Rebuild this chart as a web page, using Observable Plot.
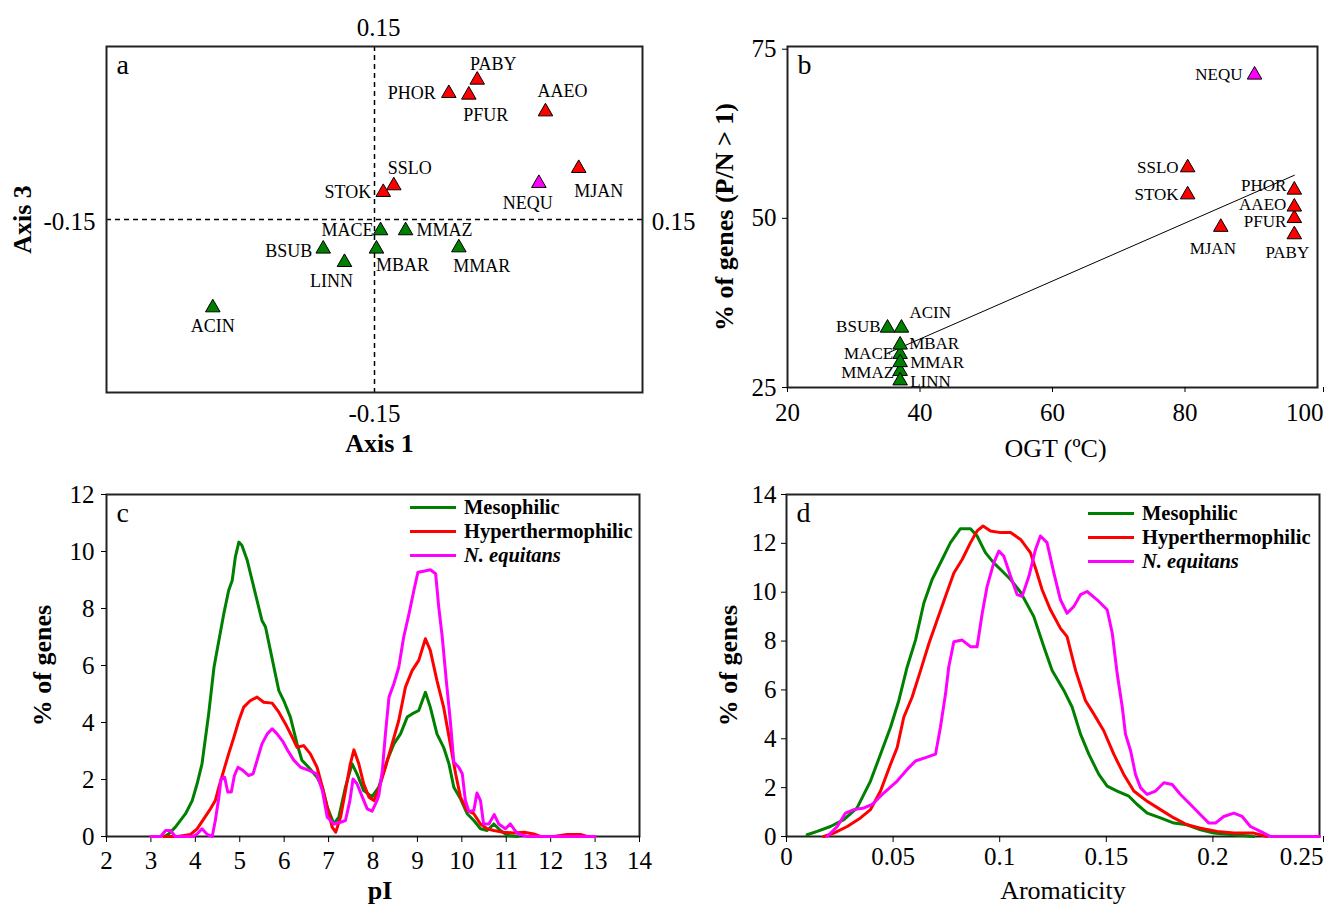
<!DOCTYPE html>
<html>
<head>
<meta charset="utf-8">
<script src="https://cdn.jsdelivr.net/npm/d3@7"></script>
<script src="https://cdn.jsdelivr.net/npm/@observablehq/plot@0.6"></script>
<style>
  body { margin: 0; background: #fff; }
  #fig { position: relative; width: 1324px; height: 907px; overflow: hidden; background: #fff; }
  .panel { position: absolute; }
  .legend { position: absolute; font-family: 'Liberation Serif', 'Times New Roman', serif; font-weight: bold; font-size: 20.5px; color: #000; }
  .legend .row { display: flex; align-items: center; height: 24px; white-space: nowrap; }
  .legend .sw { width: 46px; height: 3px; margin-right: 8px; }
</style>
</head>
<body>
<div id="fig"></div>
<script>
// ---------------- DATA ----------------
const species = ["PABY","PHOR","PFUR","AAEO","MJAN","NEQU","SSLO","STOK","MACE","MMAZ","BSUB","MBAR","MMAR","LINN","ACIN"];
const speciesGroup = ["hyper","hyper","hyper","hyper","hyper","nequ","hyper","hyper","meso","meso","meso","meso","meso","meso","meso"];

// Panel a: correspondence analysis coordinates
const axis1Values = [0.0575,0.0416,0.0528,0.0957,0.1143,0.0920,0.0108,0.0049,0.0034,0.0174,-0.0287,0.0011,0.0472,-0.0168,-0.0905];
const axis3Values = [0.1210,0.1094,0.1080,0.0935,0.0444,0.0314,0.0294,0.0236,-0.0096,-0.0096,-0.0255,-0.0255,-0.0244,-0.0371,-0.0764];
const axisRangeA = [-0.15, 0.15];

// Panel b: OGT vs % of genes with P/N > 1
const ogtValues = [96.5,96.5,96.5,96.5,85.4,90.5,80.4,80.4,37.0,37.0,35.1,37.0,37.0,37.0,37.2];
const pnValues = [47.6,54.2,50.0,51.7,48.7,71.2,57.5,53.5,29.9,27.4,33.8,31.3,28.7,26.0,33.8];
const ogtTicks = [20,40,60,80,100];
const pnTicks = [25,50,75];

// Panel c: pI distributions [pI, % of genes]
const pIMesophilic = [[3.3,0],[3.40,0.09],[3.55,0.33],[3.78,0.8],[3.93,1.26],[4.04,1.85],[4.15,2.55],[4.30,4.3],[4.42,5.94],[4.53,6.88],[4.64,7.81],[4.75,8.63],[4.83,8.98],[4.90,9.8],[4.98,10.33],[5.05,10.21],[5.17,9.68],[5.28,8.98],[5.39,8.28],[5.50,7.58],[5.58,7.35],[5.69,6.53],[5.80,5.71],[5.88,5.12],[5.99,4.77],[6.14,4.19],[6.29,3.25],[6.40,2.67],[6.55,2.43],[6.74,2.08],[6.86,1.73],[6.97,1.03],[7.12,0.44],[7.23,0.68],[7.38,1.73],[7.53,2.55],[7.64,2.2],[7.79,1.61],[7.98,1.4],[8.13,1.73],[8.32,2.67],[8.47,3.25],[8.62,3.6],[8.77,4.19],[8.88,4.3],[9.03,4.42],[9.18,5.06],[9.29,4.54],[9.44,3.6],[9.59,3.13],[9.71,2.55],[9.82,1.73],[9.97,1.32],[10.12,0.8],[10.27,0.56],[10.42,0.27],[10.57,0.21],[10.72,0.44],[10.87,0.21],[11.02,0.04],[11.25,0]];
const pIHyperthermophilic = [[3.3,0],[3.6,0],[3.89,0.07],[4.04,0.27],[4.19,0.62],[4.34,0.97],[4.45,1.26],[4.53,1.73],[4.64,2.32],[4.75,2.9],[4.87,3.49],[4.98,4.07],[5.09,4.54],[5.24,4.77],[5.39,4.89],[5.54,4.71],[5.73,4.68],[5.88,4.36],[6.03,3.95],[6.18,3.49],[6.29,3.13],[6.44,3.19],[6.59,2.9],[6.74,2.43],[6.86,1.73],[6.97,1.03],[7.08,0.33],[7.16,0.15],[7.27,0.68],[7.38,1.61],[7.49,2.55],[7.57,3.04],[7.68,2.55],[7.79,1.85],[7.91,1.38],[8.02,1.26],[8.13,1.67],[8.28,2.43],[8.43,3.25],[8.58,4.07],[8.73,5.24],[8.88,5.82],[9.03,6.18],[9.18,6.94],[9.29,6.53],[9.44,5.47],[9.59,4.54],[9.74,3.25],[9.86,2.2],[9.97,1.38],[10.12,0.91],[10.27,0.8],[10.42,0.44],[10.57,0.27],[10.72,0.21],[10.94,0.15],[11.17,0.12],[11.40,0.15],[11.62,0.09],[11.77,0],[12.07,0],[12.37,0.07],[12.67,0.07],[12.82,0]];
const pINequitans = [[3.0,0],[3.22,0],[3.33,0.21],[3.44,0.21],[3.55,0],[3.95,0],[4.04,0.09],[4.15,0.27],[4.27,0.07],[4.38,0],[4.45,0.56],[4.53,1.38],[4.58,2.02],[4.66,2.08],[4.73,1.56],[4.81,1.56],[4.88,2.14],[4.96,2.43],[5.07,2.32],[5.20,2.14],[5.30,2.2],[5.39,2.67],[5.50,3.25],[5.62,3.6],[5.73,3.78],[5.84,3.6],[5.98,3.31],[6.08,3.02],[6.22,2.67],[6.37,2.43],[6.56,2.32],[6.73,2.2],[6.86,1.61],[6.97,0.68],[7.12,0.44],[7.27,0.5],[7.38,0.56],[7.48,1.26],[7.55,2.02],[7.64,1.85],[7.76,1.38],[7.87,0.97],[7.98,0.89],[8.09,1.26],[8.13,1.44],[8.21,2.32],[8.28,3.6],[8.36,4.89],[8.47,5.36],[8.58,5.94],[8.69,6.99],[8.81,7.81],[8.92,8.63],[9.01,9.27],[9.14,9.31],[9.29,9.36],[9.41,9.22],[9.48,8.05],[9.56,6.99],[9.65,5.47],[9.74,4.07],[9.82,2.61],[9.93,2.43],[10.01,2.2],[10.08,1.26],[10.16,0.88],[10.27,0.91],[10.34,1.53],[10.42,1.26],[10.49,0.44],[10.61,0.44],[10.73,0.77],[10.83,0.44],[10.98,0.27],[11.09,0.44],[11.24,0.12],[11.47,0],[13.0,0]];
const pITicks = [2,3,4,5,6,7,8,9,10,11,12,13,14];
const pctTicksC = [0,2,4,6,8,10,12];

// Panel d: aromaticity distributions [aromaticity, % of genes]
const aroMesophilic = [[0.0097,0.07],[0.0144,0.21],[0.0206,0.41],[0.0269,0.69],[0.0331,1.17],[0.0394,2.27],[0.0441,3.37],[0.0488,4.47],[0.0527,5.57],[0.0566,6.94],[0.0605,8.04],[0.0644,9.55],[0.0683,10.52],[0.073,11.34],[0.0769,12.03],[0.0816,12.6],[0.0863,12.6],[0.0894,12.3],[0.0933,11.62],[0.0972,11.2],[0.1004,10.93],[0.1051,10.52],[0.1098,10.0],[0.116,9.0],[0.1207,7.77],[0.1246,6.8],[0.1301,5.98],[0.134,5.29],[0.1379,4.19],[0.1418,3.37],[0.1465,2.54],[0.1504,2.06],[0.1551,1.86],[0.1606,1.65],[0.1645,1.31],[0.1692,0.96],[0.1754,0.76],[0.1817,0.55],[0.1879,0.48],[0.1942,0.27],[0.2004,0.14],[0.2098,0.07],[0.2192,0]];
const aroHyperthermophilic = [[0.0175,0],[0.0222,0.14],[0.0285,0.41],[0.0347,0.76],[0.0394,1.1],[0.0441,1.86],[0.0488,2.96],[0.0519,3.64],[0.055,4.88],[0.0589,5.7],[0.0629,6.8],[0.0668,7.9],[0.0707,8.87],[0.0746,9.83],[0.0785,10.79],[0.0824,11.34],[0.0863,12.03],[0.0894,12.51],[0.0922,12.71],[0.0957,12.51],[0.1004,12.44],[0.1051,12.44],[0.1098,12.16],[0.1144,11.62],[0.1170,10.93],[0.1199,10.1],[0.1238,9.28],[0.1285,8.52],[0.1316,8.18],[0.1356,6.8],[0.1402,5.57],[0.1441,5.02],[0.1488,4.33],[0.1535,3.37],[0.1582,2.54],[0.1629,1.86],[0.1692,1.44],[0.1754,1.1],[0.1817,0.76],[0.1879,0.48],[0.1942,0.34],[0.202,0.21],[0.2098,0.14],[0.2192,0.14],[0.2255,0]];
const aroNequitans = [[0.0191,0],[0.0238,0.41],[0.0277,0.96],[0.0316,1.1],[0.0363,1.17],[0.0402,1.31],[0.0457,1.79],[0.0519,2.27],[0.0574,2.82],[0.0605,3.09],[0.0652,3.23],[0.0699,3.37],[0.0722,4.47],[0.0746,5.84],[0.0761,6.94],[0.0785,7.97],[0.0824,8.04],[0.0863,7.77],[0.0894,7.77],[0.0918,9.14],[0.0941,10.24],[0.0972,11.2],[0.0996,11.68],[0.1019,11.48],[0.1051,10.65],[0.1082,9.9],[0.1105,9.83],[0.1137,10.65],[0.1168,11.75],[0.1191,12.3],[0.1222,12.03],[0.1254,10.79],[0.1285,9.69],[0.1316,9.14],[0.1348,9.42],[0.1379,9.9],[0.141,10.03],[0.1457,9.69],[0.1504,9.28],[0.1528,8.32],[0.1551,6.67],[0.1575,5.29],[0.159,4.19],[0.1614,3.51],[0.1637,2.54],[0.1661,1.99],[0.1692,1.72],[0.1731,1.86],[0.177,2.2],[0.1809,2.13],[0.1848,1.72],[0.1895,1.31],[0.1942,0.89],[0.1981,0.55],[0.2012,0.55],[0.2051,0.82],[0.2098,0.96],[0.2137,0.82],[0.2176,0.41],[0.2223,0.21],[0.227,0],[0.25,0]];
const aroTicks = [0,0.05,0.1,0.15,0.2,0.25];
const pctTicksD = [0,2,4,6,8,10,12,14];

const seriesNames = ["Mesophilic","Hyperthermophilic","N. equitans"];

// ---------------- STYLE / LAYOUT ----------------
const FONT = "'Liberation Serif', 'Times New Roman', serif";
const GREEN = "#008000", RED = "#ff0000", MAGENTA = "#ff00ff";
const groupColor = {domain: ["meso","hyper","nequ"], range: [GREEN, RED, MAGENTA]};
const seriesColors = [GREEN, RED, MAGENTA];

// label placements [dx, dy, anchor]
const labelPlaceA = {
  PABY:[16,-16,"middle"], PHOR:[-13,0,"end"], PFUR:[17,20,"middle"], AAEO:[17,-20,"middle"],
  MJAN:[20,23,"middle"], NEQU:[-11,20,"middle"], SSLO:[16,-17,"middle"], STOK:[-12,0,"end"],
  MACE:[-7,0,"end"], MMAZ:[11,0,"start"], BSUB:[-11,2,"end"], MBAR:[26,16,"middle"],
  MMAR:[23,19,"middle"], LINN:[-13,19,"middle"], ACIN:[0,19,"middle"]
};
const labelPlaceB = {
  NEQU:[-12,0,"end"], SSLO:[-9,0,"end"], STOK:[-9,0,"end"], PHOR:[-8,-4,"end"], AAEO:[-8,-2,"end"],
  PFUR:[-8,3,"end"], PABY:[-7,18,"middle"], MJAN:[-8,21,"middle"], BSUB:[-7,-1,"end"],
  ACIN:[8,-15,"start"], MBAR:[9,-1,"start"], MACE:[-7,-1,"end"], MMAR:[10,0,"start"],
  MMAZ:[-6,1,"end"], LINN:[10,1,"start"]
};

const fig = document.getElementById("fig");
function place(node, left, top) {
  const d = document.createElement("div");
  d.className = "panel";
  d.style.left = left + "px";
  d.style.top = top + "px";
  d.appendChild(node);
  fig.appendChild(d);
}
function pointLabels(points, placement, size) {
  return points.map(p => {
    const [dx, dy, anchor] = placement[p.name];
    return Plot.text([p], {x: "x", y: "y", text: "name", dx, dy, textAnchor: anchor, lineAnchor: "middle", fontSize: size, fill: "black"});
  });
}
const svgStyle = {fontFamily: FONT, fontSize: "25px", color: "black", background: "transparent", overflow: "visible"};
const frameMark = () => Plot.frame({stroke: "#222", strokeWidth: 2});
const triDots = (pts) => Plot.dot(pts, {x: "x", y: "y", fill: "group", stroke: "black", strokeWidth: 1, symbol: "triangle", r: 5.4});
const letter = (t) => Plot.text([t], {text: d => d, frameAnchor: "top-left", dx: 10, dy: 19, textAnchor: "start", lineAnchor: "middle", fontSize: 28});
const xTitle = (t, dx, dy, bold) => Plot.text([t], {text: d => d, frameAnchor: "bottom", textAnchor: "middle", lineAnchor: "middle", dx, dy, fontSize: 26, fontWeight: bold ? "bold" : "normal"});
const yTitle = (t, dx, bold) => Plot.text([t], {text: d => d, frameAnchor: "left", rotate: -90, textAnchor: "middle", lineAnchor: "middle", dx, fontSize: 26, fontWeight: bold ? "bold" : "normal"});

// ---------------- PANEL A ----------------
const ptsA = species.map((s, i) => ({name: s, group: speciesGroup[i], x: axis1Values[i], y: axis3Values[i]}));
const endLabel = (v, xy, dx, dy) => Plot.text([v], {
  x: xy === "x" ? (d => d) : (() => 0), y: xy === "y" ? (d => d) : (() => 0),
  text: d => String(d), dx, dy, textAnchor: "middle", lineAnchor: "middle", fontSize: 25
});
const plotA = Plot.plot({
  width: 700, height: 460, marginLeft: 106, marginRight: 58, marginTop: 46, marginBottom: 68,
  x: {domain: axisRangeA, axis: null},
  y: {domain: axisRangeA, axis: null},
  color: groupColor,
  style: svgStyle,
  marks: [
    Plot.ruleX([0], {stroke: "black", strokeWidth: 1.5, strokeDasharray: "5,4"}),
    Plot.ruleY([0], {stroke: "black", strokeWidth: 1.5, strokeDasharray: "5,4"}),
    frameMark(),
    triDots(ptsA),
    ...pointLabels(ptsA, labelPlaceA, 18),
    endLabel(axisRangeA[1], "y", 4, -19),
    endLabel(axisRangeA[0], "y", 0, 21),
    endLabel(axisRangeA[0], "x", -37, 2),
    endLabel(axisRangeA[1], "x", 31, 2),
    xTitle("Axis 1", 5, 51, true),
    yTitle("Axis 3", -84, true),
    letter("a")
  ]
});
place(plotA, 0, 0);

// ---------------- PANEL B ----------------
const ptsB = species.map((s, i) => ({name: s, group: speciesGroup[i], x: ogtValues[i], y: pnValues[i]}));
const plotB = Plot.plot({
  width: 624, height: 460, marginLeft: 87, marginRight: 7, marginTop: 46, marginBottom: 73,
  x: {domain: [20, 100]},
  y: {domain: [25, 75.4]},
  color: groupColor,
  style: svgStyle,
  marks: [
    frameMark(),
    Plot.axisX({ticks: ogtTicks.slice(0, -1), tickSize: 5, tickPadding: 11, label: null}),
    Plot.axisX({ticks: ogtTicks.slice(-1), tickSize: 5, tickPadding: 11, textAnchor: "end", dx: 6, label: null}),
    Plot.axisY({ticks: pnTicks, tickSize: 5, tickPadding: 6, label: null}),
    Plot.linearRegressionY(ptsB, {x: "x", y: "y", stroke: "black", strokeWidth: 1, ci: 0}),
    triDots(ptsB),
    ...pointLabels(ptsB, labelPlaceB, 17),
    xTitle("OGT (ºC)", 3, 61, false),
    yTitle("% of genes (P/N > 1)", -63, true),
    letter("b")
  ]
});
place(plotB, 700, 0);

// ---------------- PANEL C ----------------
const plotC = Plot.plot({
  width: 660, height: 437, marginLeft: 106, marginRight: 21, marginTop: 24, marginBottom: 71,
  x: {domain: [2, 14]},
  y: {domain: [0, 12]},
  style: svgStyle,
  marks: [
    frameMark(),
    Plot.axisX({ticks: pITicks, tickSize: 6, tickPadding: 9, label: null}),
    Plot.axisY({ticks: pctTicksC, tickSize: 5, tickPadding: 7, label: null}),
    Plot.line(pIMesophilic, {x: d => d[0], y: d => d[1], stroke: seriesColors[0], strokeWidth: 3}),
    Plot.line(pIHyperthermophilic, {x: d => d[0], y: d => d[1], stroke: seriesColors[1], strokeWidth: 3}),
    Plot.line(pINequitans, {x: d => d[0], y: d => d[1], stroke: seriesColors[2], strokeWidth: 3}),
    xTitle("pI", 7, 54, true),
    yTitle("% of genes", -64, true),
    letter("c")
  ]
});
place(plotC, 0, 470);

// ---------------- PANEL D ----------------
const plotD = Plot.plot({
  width: 664, height: 437, marginLeft: 126, marginRight: 5, marginTop: 24, marginBottom: 71,
  x: {domain: [0, 0.25]},
  y: {domain: [0, 14]},
  style: svgStyle,
  marks: [
    frameMark(),
    Plot.axisX({ticks: aroTicks.slice(0, -1), tickFormat: d => String(d), tickSize: 6, tickPadding: 5, label: null}),
    Plot.axisX({ticks: aroTicks.slice(-1), tickFormat: d => String(d), tickSize: 6, tickPadding: 5, textAnchor: "end", dx: 4, label: null}),
    Plot.axisY({ticks: pctTicksD, tickSize: 5, tickPadding: 5, label: null}),
    Plot.line(aroMesophilic, {x: d => d[0], y: d => d[1], stroke: seriesColors[0], strokeWidth: 3}),
    Plot.line(aroHyperthermophilic, {x: d => d[0], y: d => d[1], stroke: seriesColors[1], strokeWidth: 3}),
    Plot.line(aroNequitans, {x: d => d[0], y: d => d[1], stroke: seriesColors[2], strokeWidth: 3}),
    xTitle("Aromaticity", 10, 54, false),
    yTitle("% of genes", -58, true),
    letter("d")
  ]
});
place(plotD, 660, 470);

// ---------------- LEGENDS ----------------
function legend(left, top) {
  const div = document.createElement("div");
  div.className = "legend";
  div.style.left = left + "px";
  div.style.top = top + "px";
  seriesNames.forEach((name, i) => {
    const row = document.createElement("div");
    row.className = "row";
    const sw = document.createElement("div");
    sw.className = "sw";
    sw.style.background = seriesColors[i];
    const label = document.createElement("span");
    label.textContent = name;
    if (name.startsWith("N.")) label.style.fontStyle = "italic";
    row.appendChild(sw);
    row.appendChild(label);
    div.appendChild(row);
  });
  fig.appendChild(div);
}
legend(410, 495);
legend(1088, 501);
</script>
</body>
</html>
